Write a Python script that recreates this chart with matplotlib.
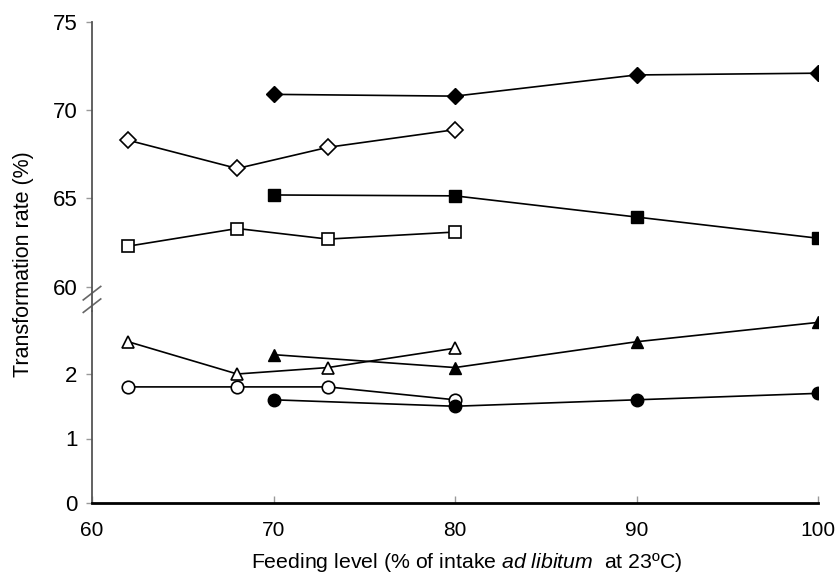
import matplotlib
matplotlib.use("Agg")
import matplotlib.pyplot as plt

# ===================== DATOS =====================
x_open = [62, 68, 73, 80]
x_filled = [70, 80, 90, 100]

# serie superior (60-75 %)
open_diamond = [68.3, 66.7, 67.9, 68.9]
filled_diamond = [70.9, 70.8, 72.0, 72.1]
open_square = [62.3, 63.3, 62.7, 63.1]
filled_square = [65.2, 65.15, 63.95, 62.75]

# serie inferior (0-3 %)
open_triangle = [2.5, 2.0, 2.1, 2.4]
filled_triangle = [2.3, 2.1, 2.5, 2.8]
open_circle = [1.8, 1.8, 1.8, 1.6]
filled_circle = [1.6, 1.5, 1.6, 1.7]

x_ticks = [60, 70, 80, 90, 100]
y_ticks_top = [60, 65, 70, 75]
y_ticks_low = [0, 1, 2]

# ===================== ESTILO =====================
plt.rcParams["font.family"] = ["Liberation Sans", "DejaVu Sans"]
plt.rcParams["mathtext.fontset"] = "custom"
plt.rcParams["mathtext.it"] = "Liberation Sans:italic"
plt.rcParams["mathtext.rm"] = "Liberation Sans"

fig = plt.figure(figsize=(8.38, 5.74), dpi=100)
W, H = 838.0, 574.0
left = 92 / W
width = (818 - 92) / W
y_break = 310.5
ax_low = fig.add_axes([left, (H - 503) / H, width, (503 - y_break) / H])
ax_top = fig.add_axes([left, (H - y_break) / H, width, (y_break - 22) / H])

line_kw = dict(color="black", lw=1.2)

# superior
ax_top.plot(x_filled, filled_diamond, marker="D", ms=8.5, mfc="black", mec="black", **line_kw)
ax_top.plot(x_open, open_diamond, marker="D", ms=8.5, mfc="white", mec="black", mew=1.2, **line_kw)
ax_top.plot(x_filled, filled_square, marker="s", ms=8, mfc="black", mec="black", **line_kw)
ax_top.plot(x_open, open_square, marker="s", ms=8, mfc="white", mec="black", mew=1.2, **line_kw)

# inferior
ax_low.plot(x_open, open_triangle, marker="^", ms=9, mfc="white", mec="black", mew=1.2, **line_kw)
ax_low.plot(x_filled, filled_triangle, marker="^", ms=9, mfc="black", mec="black", **line_kw)
ax_low.plot(x_open, open_circle, marker="o", ms=9, mfc="white", mec="black", mew=1.2, **line_kw)
ax_low.plot(x_filled, filled_circle, marker="o", ms=9, mfc="black", mec="black", **line_kw)

# ===================== EJES =====================
for ax in (ax_top, ax_low):
    ax.set_xlim(60, 100)
    ax.spines["right"].set_visible(False)
    ax.spines["top"].set_visible(False)
    ax.spines["left"].set_color("#555555")
    ax.spines["left"].set_linewidth(1.3)
    ax.tick_params(axis="y", direction="out", length=4.5, width=1.0, color="#999999",
                   labelsize=16, pad=6)
    ax.patch.set_alpha(0)

ax_top.set_ylim(75 - (y_break - 22) / 17.65, 75)
ax_top.set_yticks(y_ticks_top)
ax_top.spines["bottom"].set_visible(False)
ax_top.set_xticks([])

ax_low.set_ylim(0, (503 - y_break) / 64.5)
ax_low.set_yticks(y_ticks_low)
ax_low.set_xticks(x_ticks)
ax_low.spines["bottom"].set_linewidth(2.0)
ax_low.tick_params(axis="x", direction="in", length=5, width=1.0, color="#999999",
                   labelsize=15, pad=13)

# marca de corte "//"
for dy in (0.0, 0.065):
    ax_low.plot([-0.012, 0.012], [0.99 + dy, 1.06 + dy], transform=ax_low.transAxes,
                color="#666666", lw=1.2, clip_on=False)

fig.text(24 / W, 1 - 264 / H, "Transformation rate (%)", rotation=90,
         ha="center", va="center", fontsize=15.5)
fig.text(467 / W, 1 - 563 / H, r"Feeding level (% of intake $ad\ libitum$  at 23ºC)",
         ha="center", va="center", fontsize=15.3)

fig.savefig("out.png", dpi=100)
